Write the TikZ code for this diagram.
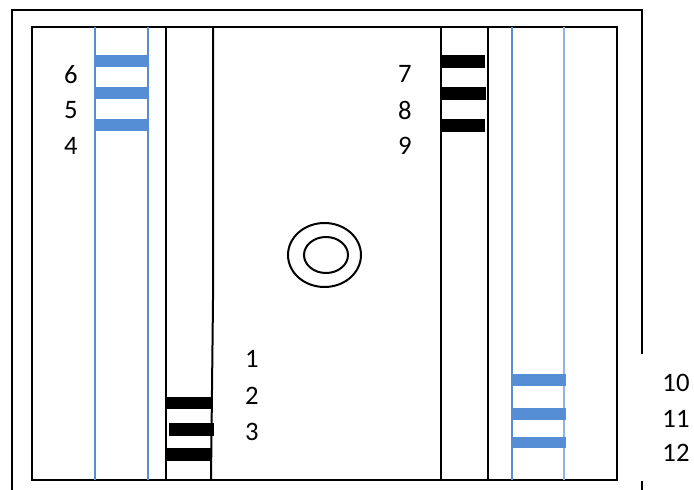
\documentclass[tikz,border=0pt]{standalone}
\usepackage{fontspec}
\setmainfont{Carlito}
\definecolor{laneblue}{HTML}{558ED5}
\definecolor{lightblue}{HTML}{8DB4E2}
\begin{document}
\begin{tikzpicture}[x=0.75pt,y=-0.75pt,
  frame/.style={draw=black,line width=1.6pt},
  lane/.style={draw=black,line width=1.5pt},
  bluelane/.style={draw=laneblue,line width=1.3pt},
  bluebar/.style={draw=none,fill=laneblue},
  blackbar/.style={draw=none,fill=black},
  lbl/.style={font=\fontsize{20}{22}\selectfont,inner sep=0pt,anchor=center}]
\useasboundingbox (0,0) rectangle (694,490);
% outer frame (cut at the bottom)
\draw[frame] (12,490) -- (12,10) -- (642,10) -- (642,490);
% inner frame
\draw[frame] (32,27) rectangle (617,480);
% left blue lane
\draw[bluelane] (95,27) -- (95,480);
\draw[bluelane] (148,27) -- (148,480);
\fill[bluebar] (95,55) rectangle (148,67);
\fill[bluebar] (95,87) rectangle (148,99);
\fill[bluebar] (95,119) rectangle (148,131);
% left black lane
\draw[lane] (166,27) -- (166,480);
\draw[lane] (213,27) -- (213,300) -- (211,480);
\fill[blackbar] (166,397) rectangle (211,409);
\fill[blackbar] (169,423) rectangle (214,436);
\fill[blackbar] (166,448) rectangle (211,461);
% right black lane
\draw[lane] (441,27) -- (441,480);
\draw[lane] (488,27) -- (488,480);
\fill[blackbar] (441,55) rectangle (485,68);
\fill[blackbar] (441,87) rectangle (486,100);
\fill[blackbar] (441,119) rectangle (485,132);
% right blue lane
\draw[bluelane] (512,27) -- (512,480);
\draw[draw=lightblue,line width=1.3pt] (564,27) -- (564,480);
\fill[bluebar] (512,374) rectangle (566,386);
\fill[bluebar] (512,408) rectangle (566,420);
\fill[bluebar] (512,437) rectangle (566,448);
% centre ring
\draw[line width=1.5pt] (324.5,255) ellipse [x radius=36.5, y radius=32];
\draw[line width=1.5pt] (326,255) ellipse [x radius=22, y radius=18];
% labels
\node[lbl] (n6) at (71,75) {6};
\node[lbl] (n5) at (71,110) {5};
\node[lbl] (n4) at (71,146) {4};
\node[lbl] (n7) at (405,74) {7};
\node[lbl] (n8) at (405,110) {8};
\node[lbl] (n9) at (405,146) {9};
\node[lbl] (n1) at (252,359) {1};
\node[lbl] (n2) at (252,396) {2};
\node[lbl] (n3) at (252,432) {3};
% white box covering the frame behind 10-12
\fill[white] (640,354) rectangle (694,481);
\node[lbl] (n10) at (676,383) {10};
\node[lbl] (n11) at (676,419) {11};
\node[lbl] (n12) at (676,453) {12};
\end{tikzpicture}
\end{document}
